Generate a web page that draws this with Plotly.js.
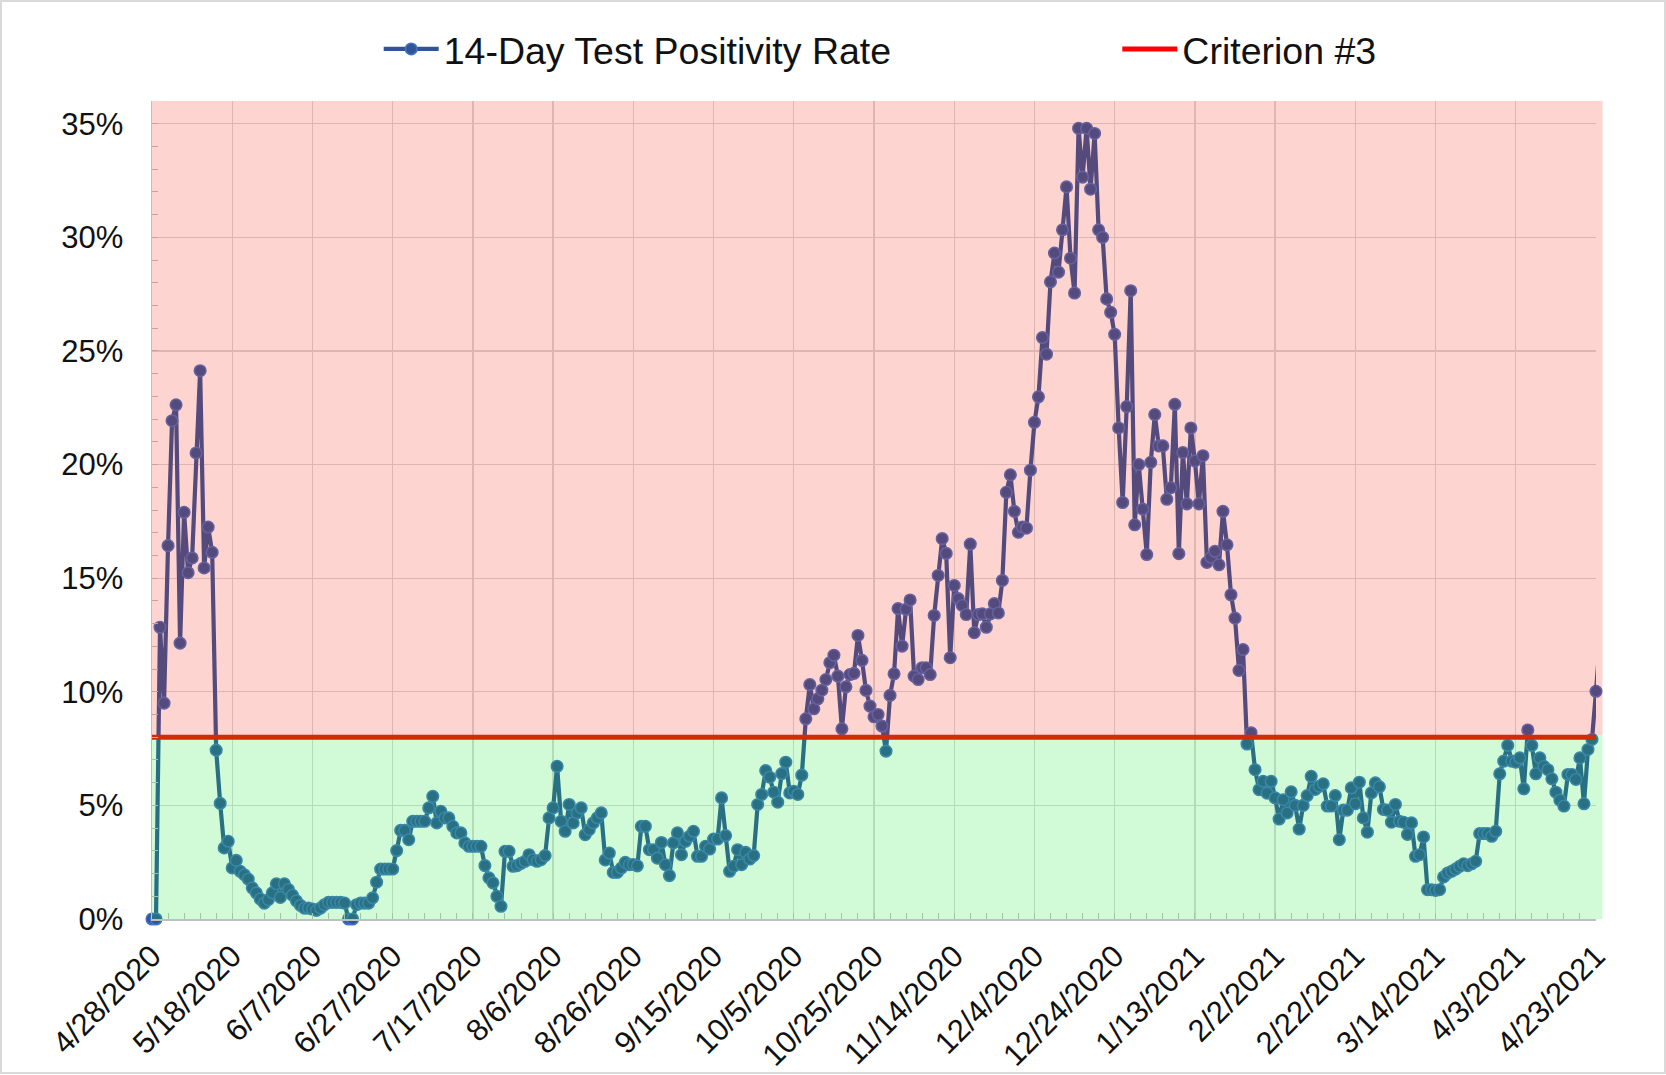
<!DOCTYPE html>
<html>
<head>
<meta charset="utf-8">
<script src="https://cdn.plot.ly/plotly-3.0.1.min.js"></script>
<style>
  html, body { margin: 0; padding: 0; background: #ffffff; }
  #chart { position: absolute; left: 0; top: 0; width: 1666px; height: 1075px; }
  #frame { position: absolute; left: 0; top: 0; width: 1666px; height: 1074px; box-sizing: border-box;
           border: 2px solid #d9d9d9; pointer-events: none; z-index: 10; }
</style>
</head>
<body>
<div id="chart"></div>
<div id="frame"></div>
<script>
// ---- data (daily 14-day test positivity rate, %) ----
const startDate = '2020-04-28';
const positivity = [
  // 4/28 - 5/15
  0, 0, 12.84, 9.5, 16.43, 21.93, 22.63, 12.14, 17.9, 15.24, 15.89, 20.51, 24.13, 15.45, 17.25, 16.14, 7.43, 5.09,
  // 5/16 - 8/6
  3.13, 3.42, 2.25, 2.58, 2.1, 1.95, 1.76, 1.37, 1.15, 0.88,
  0.7, 0.85, 1.15, 1.55, 0.95, 1.55, 1.3, 1.05, 0.8, 0.6,
  0.48, 0.48, 0.44, 0.38, 0.48, 0.63, 0.73, 0.73, 0.73, 0.73,
  0.7, 0, 0, 0.63, 0.7, 0.7, 0.7, 0.93, 1.62, 2.2,
  2.2, 2.2, 2.2, 3.01, 3.9, 3.9, 3.49, 4.3, 4.3, 4.3,
  4.3, 4.89, 5.4, 4.23, 4.74, 4.45, 4.45, 4.08, 3.79, 3.79,
  3.35, 3.2, 3.2, 3.2, 3.2, 2.35, 1.81, 1.59, 1.0, 0.56,
  2.98, 2.98, 2.32, 2.35, 2.45, 2.54, 2.83, 2.61, 2.54, 2.61,
  2.79, 4.45, 4.89, 6.72,
  // 8/7 - 11/13
  4.3, 3.86, 5.04, 4.23, 4.67, 4.89, 3.71, 3.93, 4.23, 4.45,
  4.67, 2.6, 2.9, 2.05, 2.05, 2.24, 2.49, 2.39, 2.4, 2.34,
  4.08, 4.08, 3.05, 3.05, 2.68, 3.37, 2.39, 1.91, 3.35, 3.79,
  2.83, 3.42, 3.64, 3.86, 2.76, 2.76, 3.2, 3.08, 3.52, 3.52,
  5.33, 3.67, 2.1, 2.32, 3.05, 2.39, 2.93, 2.64, 2.79, 5.04,
  5.48, 6.53, 6.24, 5.58, 5.14, 6.4, 6.9, 5.55, 5.62, 5.48,
  6.33, 8.81, 10.32, 9.25, 9.69, 10.07, 10.54, 11.28, 11.61, 10.69,
  8.37, 10.22, 10.76, 10.81, 12.48, 11.38, 10.06, 9.37, 8.9, 9.0,
  8.49, 7.39, 9.84, 10.79, 13.66, 12.01, 13.63, 14.04, 10.69, 10.54,
  11.06, 11.06, 10.76, 13.36, 15.12, 16.74, 16.09, 11.5,
  // 11/14 - 1/27
  14.68, 14.1, 13.8, 13.4, 16.5, 12.6, 13.4, 13.43, 12.84, 13.43,
  13.88, 13.47, 14.9, 18.78, 19.55, 17.94, 17.02, 17.25, 17.2, 19.75,
  21.86, 22.98, 25.59, 24.86, 28.04, 29.31, 28.47, 30.33, 32.22, 29.08,
  27.55, 34.8, 32.65, 34.8, 32.12, 34.57, 30.33, 30.0, 27.29, 26.7,
  25.73, 21.61, 18.33, 22.55, 27.65, 17.35, 20.0, 18.04, 16.04, 20.1,
  22.2, 20.82, 20.82, 18.47, 18.98, 22.65, 16.08, 20.53, 18.27, 21.61,
  20.16, 18.27, 20.39, 15.69, 15.92, 16.18, 15.59, 17.94, 16.47, 14.27,
  13.24, 10.94, 11.86, 7.7, 8.2,
  // 1/28 - 4/24
  6.57, 5.69, 6.06, 5.54, 6.06, 5.33, 4.4, 5.25, 4.67, 5.6,
  5.0, 3.96, 5.0, 5.43, 6.28, 5.7, 5.84, 5.95, 4.97, 4.97,
  5.43, 3.49, 4.79, 4.79, 5.77, 5.07, 6.02, 4.45, 3.82, 5.55,
  5.99, 5.82, 4.82, 4.79, 4.26, 5.04, 4.3, 4.26, 3.72, 4.23,
  2.76, 2.83, 3.61, 1.29, 1.29, 1.26, 1.29, 1.85, 2.02, 2.1,
  2.2, 2.32, 2.43, 2.35, 2.43, 2.54, 3.76, 3.76, 3.76, 3.64,
  3.86, 6.39, 6.95, 7.64, 6.95, 6.9, 7.09, 5.73, 8.32, 7.64,
  6.39, 7.09, 6.72, 6.57, 6.17, 5.58, 5.23, 4.97, 6.36, 6.36,
  6.14, 7.09, 5.07, 7.46, 7.9, 10.02, 12.3
];
const criterionValue = 8;
const lastAxisDay = 360; // 4/23/2021
const seriesName = '14-Day Test Positivity Rate';
const criterionName = 'Criterion #3';

// ---- build date categories ----
const DAY = 86400000;
const t0 = Date.parse(startDate + 'T00:00:00Z');
function dayStr(i) {
  const d = new Date(t0 + i * DAY);
  return d.toISOString().slice(0, 10);
}
const dates = positivity.map((_, i) => dayStr(i));
const axisStart = dates[0];
const axisEnd = dates[lastAxisDay];

const FONT = 'Liberation Sans, Arial, sans-serif';
const TXT = '#111111';
const SERIES_BLUE = '#2F5597';

const traces = [
  {
    type: 'scatter', mode: 'lines+markers', name: seriesName,
    x: dates.slice(0, lastAxisDay + 1), y: positivity.slice(0, lastAxisDay + 1),
    line: { color: SERIES_BLUE, width: 4.2 },
    marker: { color: SERIES_BLUE, size: 11.5, line: { color: '#4472C4', width: 1.6 } },
    cliponaxis: false, legend: 'legend'
  },
  {
    type: 'scatter', mode: 'lines', name: seriesName, showlegend: false,
    x: dates.slice(lastAxisDay), y: positivity.slice(lastAxisDay),
    line: { color: SERIES_BLUE, width: 4.2 }
  },
  {
    type: 'scatter', mode: 'lines', name: criterionName,
    x: [axisStart, axisEnd], y: [criterionValue, criterionValue],
    line: { color: '#FF0000', width: 5 }, legend: 'legend2'
  }
];

const layout = {
  width: 1666, height: 1075,
  margin: { l: 152, r: 70, t: 101, b: 156 },
  paper_bgcolor: '#ffffff', plot_bgcolor: '#ffffff',
  font: { family: FONT, color: TXT, size: 31 },
  showlegend: true,
  legend: { orientation: 'h', x: 0.157, xanchor: 'left', y: 1.0635, yanchor: 'middle', itemwidth: 55,
            font: { family: FONT, size: 37.5, color: TXT }, bgcolor: 'rgba(0,0,0,0)' },
  legend2: { orientation: 'h', x: 0.6685, xanchor: 'left', y: 1.0635, yanchor: 'middle', itemwidth: 55,
             font: { family: FONT, size: 37.5, color: TXT }, bgcolor: 'rgba(0,0,0,0)' },
  xaxis: {
    type: 'date', range: [axisStart, axisEnd],
    tick0: axisStart, dtick: 20 * DAY, tickformat: '%-m/%-d/%Y', tickangle: -45,
    tickfont: { family: FONT, size: 31, color: TXT },
    showgrid: true, gridcolor: '#D9D9D9', gridwidth: 1.3,
    showline: true, linecolor: '#BFBFBF', linewidth: 1.5,
    ticks: 'inside', ticklen: 6, tickcolor: '#BFBFBF',
    minor: { tick0: axisStart, dtick: 4 * DAY, ticks: 'inside', ticklen: 6, tickcolor: '#BFBFBF', showgrid: false },
    zeroline: false, ticklabelstandoff: 5
  },
  yaxis: {
    range: [0, 36], tick0: 0, dtick: 5, ticksuffix: '%',
    tickfont: { family: FONT, size: 31, color: TXT },
    showgrid: true, gridcolor: '#D9D9D9', gridwidth: 1.3,
    showline: true, linecolor: '#BFBFBF', linewidth: 1.5,
    ticks: 'inside', ticklen: 6, tickcolor: '#BFBFBF',
    minor: { dtick: 1, ticks: 'inside', ticklen: 6, tickcolor: '#BFBFBF', showgrid: false },
    zeroline: false, ticklabelstandoff: 21
  },
  shapes: [
    { type: 'rect', layer: 'above', xref: 'paper', yref: 'y', x0: 0, x1: 1.0045, y0: 0, y1: criterionValue + 0.11,
      fillcolor: 'rgba(8,229,45,0.19)', line: { width: 0 } },
    { type: 'rect', layer: 'above', xref: 'paper', yref: 'y', x0: 0, x1: 1.0045, y0: criterionValue + 0.11, y1: 36,
      fillcolor: 'rgba(245,29,3,0.19)', line: { width: 0 } }
  ]
};

Plotly.newPlot('chart', traces, layout, { displayModeBar: false, staticPlot: true });
</script>
</body>
</html>
